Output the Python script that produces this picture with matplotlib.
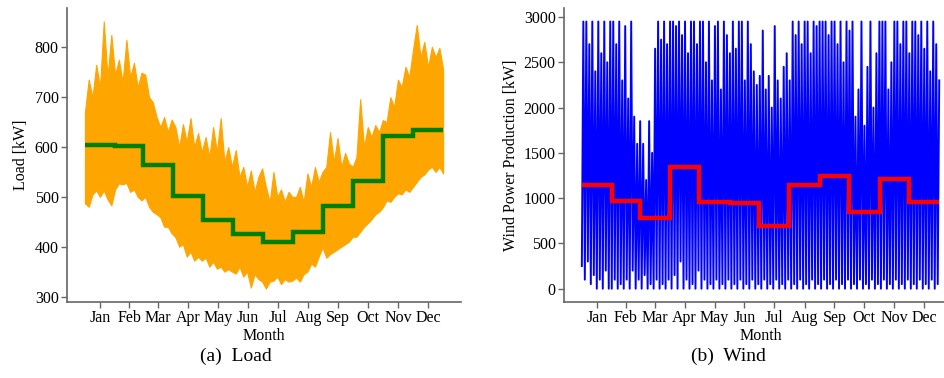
import numpy as np
import matplotlib
matplotlib.use("Agg")
import matplotlib.pyplot as plt

# ── data ───────────────────────────────────────────────────────────────────
months = ["Jan", "Feb", "Mar", "Apr", "May", "Jun",
          "Jul", "Aug", "Sep", "Oct", "Nov", "Dec"]
days_in_month = [31, 28, 31, 30, 31, 30, 31, 31, 30, 31, 30, 31]

# monthly mean load [kW] (green steps)
load_monthly = [605, 602, 563, 501, 453, 425, 409, 429, 482, 531, 622, 635]
# hourly load envelope, eight readings per month (orange band)
load_upper = [
    670, 735, 700, 765, 720, 852, 740, 825,
    745, 775, 730, 815, 740, 769, 720, 749,
    745, 700, 690, 660, 640, 660, 630, 655,
    640, 600, 646, 610, 658, 600, 628, 590,
    620, 580, 640, 590, 658, 570, 600, 560,
    594, 540, 560, 520, 553, 510, 540, 557,
    520, 490, 550, 500, 515, 490, 510, 500,
    500, 520, 490, 547, 520, 560, 530, 550,
    560, 630, 570, 618, 560, 588, 567, 560,
    580, 696, 600, 640, 620, 644, 630, 654,
    650, 700, 680, 735, 720, 761, 740, 795,
    845, 780, 811, 760, 801, 780, 799, 755,
]
load_lower = [
    487, 480, 505, 513, 500, 513, 495, 483,
    515, 527, 525, 528, 510, 515, 500, 493,
    500, 480, 470, 465, 459, 440, 440, 427,
    419, 400, 405, 380, 390, 372, 380, 372,
    378, 360, 370, 356, 360, 350, 355, 350,
    346, 360, 340, 350, 318, 345, 335, 330,
    316, 330, 332, 340, 325, 335, 330, 332,
    338, 330, 345, 350, 366, 360, 380, 399,
    378, 385, 390, 395, 400, 405, 410, 420,
    420, 430, 440, 447, 455, 465, 470, 479,
    493, 490, 500, 507, 505, 515, 510, 520,
    530, 540, 545, 555, 560, 550, 560, 547,
]

# monthly mean wind power [kW] (red steps)
wind_monthly = [1140, 970, 778, 1340, 962, 951, 690, 1140, 1240, 845, 1210, 955]
# hourly wind production, twenty readings per month (blue trace)
wind_hourly = [
    250, 2950, 100, 2950, 300, 2700, 50, 2950, 150, 2400, 0, 2950, 100, 2600, 0, 2950, 200, 2500, 0, 2950,
    0, 2950, 100, 2700, 0, 2950, 50, 2300, 0, 2900, 100, 2100, 0, 2950, 200, 1900, 0, 1600, 100, 1850,
    0, 1600, 150, 1200, 0, 1850, 50, 1500, 0, 2650, 100, 2950, 0, 2750, 50, 2950, 0, 2700, 100, 2950,
    0, 2950, 150, 2900, 0, 2950, 300, 2800, 0, 2950, 100, 2600, 0, 2950, 50, 2950, 0, 2700, 200, 2950,
    0, 2950, 100, 2500, 0, 2950, 50, 2300, 0, 2900, 100, 2950, 0, 2200, 50, 2950, 0, 2800, 100, 2600,
    0, 2950, 50, 2650, 0, 2950, 100, 2950, 0, 2300, 50, 2950, 0, 2700, 100, 2400, 0, 2250, 50, 2350,
    0, 2850, 100, 2200, 0, 2350, 50, 2000, 0, 2900, 100, 2300, 0, 2100, 50, 2450, 0, 2600, 100, 2300,
    0, 2950, 50, 2800, 0, 2950, 100, 2700, 0, 2950, 50, 2950, 0, 2600, 100, 2950, 0, 2900, 50, 2950,
    0, 2950, 100, 2950, 0, 2800, 50, 2950, 0, 2950, 100, 2700, 0, 2950, 50, 2500, 0, 2950, 100, 2850,
    0, 2950, 50, 1900, 0, 2200, 100, 2950, 0, 1800, 50, 2450, 0, 2950, 100, 2000, 0, 2600, 50, 2950,
    0, 2950, 100, 2950, 0, 2200, 50, 2500, 0, 2950, 100, 2950, 0, 2700, 50, 2950, 0, 2950, 100, 2600,
    0, 2950, 50, 2950, 0, 2800, 100, 2950, 0, 2650, 50, 2950, 0, 2400, 100, 2950, 0, 2700, 50, 2300,
]

# ── hour axis ──────────────────────────────────────────────────────────────
edges = np.concatenate([[0], np.cumsum(days_in_month) * 24]).astype(float)
edges[-1] = 8759
mid = (edges[:-1] + edges[1:]) / 2

x_load = np.linspace(0, 8759, len(load_upper))
x_wind = np.linspace(0, 8759, len(wind_hourly))

plt.rcParams["font.family"] = ["Liberation Serif", "DejaVu Serif"]
plt.rcParams["font.size"] = 11.5

fig = plt.figure(figsize=(9.45, 3.78), dpi=100)
ax1 = fig.add_axes([0.0709, 0.201, 0.417, 0.778])
ax2 = fig.add_axes([0.5968, 0.201, 0.416, 0.778])

# (a) load
ax1.fill_between(x_load, load_lower, load_upper, color="orange", lw=0.8,
                 edgecolor="orange")
ax1.stairs(load_monthly, edges, color="green", lw=3.2, baseline=None, zorder=3)
ax1.set_ylabel("Load [kW]", labelpad=4)

# (b) wind
ax2.plot(x_wind, wind_hourly, color="blue", lw=1.4)
ax2.stairs(wind_monthly, edges, color="red", lw=3.2, baseline=None, zorder=3)
ax2.set_ylabel("Wind Power Production [kW]", labelpad=3)

for ax in (ax1, ax2):
    ax.set_xlim(-0.05 * 8759, 1.05 * 8759)
    ax.set_xticks(mid)
    ax.set_xticklabels(months)
    ax.set_xlabel("Month", labelpad=1)
    for side in ("top", "right"):
        ax.spines[side].set_visible(False)
    for side in ("left", "bottom"):
        ax.spines[side].set_color("0.4")
        ax.spines[side].set_linewidth(1.2)
    ax.tick_params(color="0.4", width=1.0, length=4, pad=2)

ax1.set_ylim(289, 879)
ax1.set_yticks([300, 400, 500, 600, 700, 800])
ax2.set_ylim(-147, 3100)
ax2.set_yticks([0, 500, 1000, 1500, 2000, 2500, 3000])

fig.text(0.25, 0.045, "(a)  Load", ha="center", va="baseline", fontsize=14)
fig.text(0.771, 0.045, "(b)  Wind", ha="center", va="baseline", fontsize=14)

fig.savefig("out.png", dpi=100)
